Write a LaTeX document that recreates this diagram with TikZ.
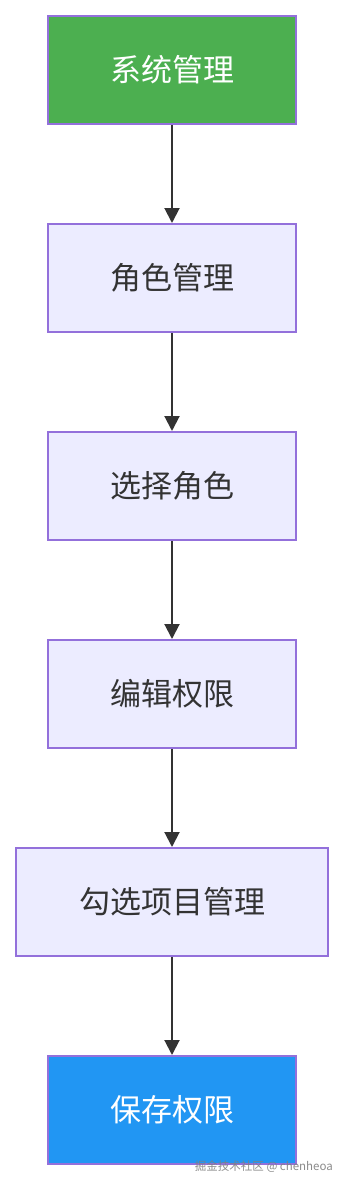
\documentclass[tikz,border=0pt]{standalone}
\usepackage{fontspec}
\newfontfamily\cjk{Noto Sans CJK SC}
\usetikzlibrary{arrows.meta}
\definecolor{boxfill}{HTML}{ECECFF}
\definecolor{boxline}{HTML}{9370DB}
\definecolor{greenfill}{HTML}{4CAF50}
\definecolor{bluefill}{HTML}{2196F3}
\definecolor{ink}{HTML}{333333}
\tikzset{
  stepbox/.style={draw=boxline, line width=2pt, fill=boxfill, minimum height=108pt,
    minimum width=248pt, inner sep=0pt, font=\cjk\fontsize{31}{36}\selectfont, text=ink},
  wide/.style={minimum width=312pt},
  startbox/.style={fill=greenfill, text=white},
  endbox/.style={fill=bluefill, text=white},
  link/.style={draw=ink, line width=2pt, -{Triangle[length=15pt,width=15pt]}},
}
\begin{document}
\begin{tikzpicture}[x=1pt,y=-1pt]
\useasboundingbox (0,0) rectangle (344,1180);
\fill[white] (0,0) rectangle (344,1180);
\node[stepbox,startbox] (a) at (172,70) {系统管理};
\node[stepbox] (b) at (172,278) {角色管理};
\node[stepbox] (c) at (172,486) {选择角色};
\node[stepbox] (d) at (172,694) {编辑权限};
\node[stepbox,wide] (e) at (172,902) {勾选项目管理};
\node[stepbox,endbox] (f) at (172,1110) {保存权限};
\draw[link] (a) -- (b);
\draw[link] (b) -- (c);
\draw[link] (c) -- (d);
\draw[link] (d) -- (e);
\draw[link] (e) -- (f);
\node[anchor=south east, inner sep=0pt, text=gray, opacity=0.9, font=\cjk\fontsize{11.5}{13}\selectfont] (wm) at (333,1173) {掘金技术社区 @ chenheoa};
\end{tikzpicture}
\end{document}
